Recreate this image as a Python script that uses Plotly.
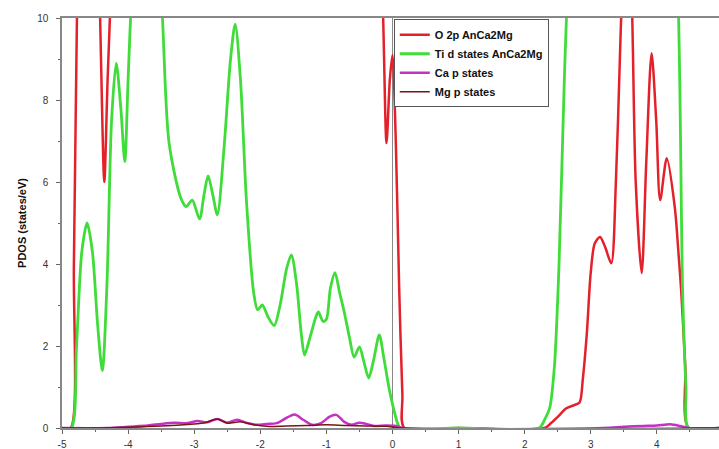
import plotly.graph_objects as go

# Energy (eV) / PDOS (states/eV)
ti_d_x = [-5.0, -4.86, -4.78, -4.70, -4.62, -4.54, -4.46, -4.39, -4.32, -4.25, -4.18, -4.11, -4.05,
          -4.0, -3.94, -3.85, -3.7, -3.55, -3.48, -3.38, -3.2, -3.12, -3.03, -2.92, -2.85, -2.79,
          -2.72, -2.65, -2.55, -2.45, -2.38, -2.3, -2.21, -2.1, -2.04, -1.97, -1.88, -1.79, -1.7,
          -1.6, -1.53, -1.45, -1.38, -1.33, -1.25, -1.15, -1.12, -1.05, -1.0, -0.94, -0.87, -0.8,
          -0.73, -0.65, -0.58, -0.5, -0.43, -0.36, -0.28, -0.2, -0.13, -0.05, 0.02, 0.08, 0.12,
          1.0, 2.22, 2.3, 2.38, 2.45, 2.52, 2.6, 2.66, 2.8, 3.5, 4.2, 4.32, 4.39, 4.44, 4.48, 4.94]
ti_d_y = [0.0, 0.0, 2.0, 4.3, 5.0, 4.3, 2.5, 1.4, 3.5, 7.5, 8.9, 7.8, 6.5,
          8.5, 10.8, 13.0, 14.0, 12.0, 10.0, 6.95, 5.6, 5.4, 5.56, 5.1, 5.7, 6.15,
          5.7, 5.2, 6.8, 9.0, 9.85, 8.5, 5.56, 3.3, 2.88, 3.0, 2.7, 2.5, 3.0,
          3.9, 4.22, 3.5, 2.3, 1.78, 2.2, 2.75, 2.83, 2.6, 2.65, 3.4, 3.79, 3.3,
          2.83, 2.2, 1.73, 1.98, 1.6, 1.22, 1.7, 2.27, 1.7, 0.95, 0.45, 0.1, 0.0,
          0.0, 0.0, 0.2, 0.5, 1.5, 4.0, 8.5, 11.0, 14.0, 15.0, 14.0, 10.5, 3.3, 1.0, 0.0, 0.0]

o_2p_x = [-5.0, -4.87, -4.82, -4.77, -4.7, -4.55, -4.45, -4.41, -4.36, -4.31, -4.25, -4.1,
          -2.0, -0.3, -0.15, -0.09, -0.04, 0.0, 0.05, 0.1, 0.15, 0.18,
          1.0, 2.3, 2.4, 2.5, 2.63, 2.75, 2.83, 2.88, 2.94, 3.0, 3.06, 3.14, 3.22, 3.31,
          3.38, 3.44, 3.47, 3.55, 3.62, 3.68, 3.77, 3.84, 3.92, 3.99, 4.05, 4.15, 4.27,
          4.33, 4.37, 4.43, 4.48, 4.94]
o_2p_y = [0.0, 0.0, 4.0, 10.5, 16.0, 18.0, 12.0, 9.0, 6.0, 8.5, 11.0, 16.0,
          18.0, 16.0, 10.5, 6.95, 8.5, 9.1, 7.0, 3.5, 0.8, 0.0,
          0.0, 0.0, 0.12, 0.27, 0.48, 0.56, 0.62, 1.2, 2.3, 3.8, 4.5, 4.66, 4.4, 4.02,
          6.0, 9.0, 10.5, 13.0, 10.5, 6.0, 3.78, 6.5, 9.14, 7.5, 5.56, 6.58, 5.4,
          4.2, 3.3, 1.5, 0.0, 0.0]

ca_p_x = [-5.0, -4.3, -4.0, -3.7, -3.5, -3.3, -3.1, -2.95, -2.8, -2.65, -2.5, -2.35, -2.2,
          -2.05, -1.9, -1.75, -1.6, -1.48, -1.35, -1.22, -1.08, -0.95, -0.85, -0.73, -0.62,
          -0.5, -0.4, -0.28, -0.1, 0.05, 0.15, 3.2, 3.5, 3.8, 4.0, 4.2, 4.35, 4.48, 4.94]
ca_p_y = [0.0, 0.0, 0.03, 0.06, 0.1, 0.13, 0.12, 0.17, 0.14, 0.22, 0.13, 0.2, 0.12,
          0.08, 0.1, 0.12, 0.25, 0.33, 0.2, 0.08, 0.12, 0.28, 0.32, 0.15, 0.08,
          0.13, 0.1, 0.05, 0.06, 0.05, 0.0, 0.0, 0.03, 0.05, 0.06, 0.09, 0.05, 0.0, 0.0]

mg_p_x = [-5.0, -4.5, -4.0, -3.5, -3.0, -2.85, -2.65, -2.5, -2.3, -2.1, -1.9, -1.6, -1.3,
          -1.0, -0.7, -0.4, -0.1, 0.15, 4.94]
mg_p_y = [0.0, 0.0, 0.02, 0.05, 0.1, 0.12, 0.22, 0.12, 0.15, 0.08, 0.04, 0.05, 0.06,
          0.08, 0.06, 0.05, 0.04, 0.0, 0.0]

series_names = ["O 2p AnCa2Mg", "Ti d states AnCa2Mg", "Ca p states", "Mg p states"]
x_ticks = [-5, -4, -3, -2, -1, 0, 1, 2, 3, 4, 5]
y_ticks = [0, 2, 4, 6, 8, 10]

fig = go.Figure()
fig.add_trace(go.Scatter(x=o_2p_x, y=o_2p_y, name=series_names[0], mode="lines",
                         line=dict(color="#e3212b", width=2.5, shape="spline", smoothing=0.8)))
fig.add_trace(go.Scatter(x=ti_d_x, y=ti_d_y, name=series_names[1], mode="lines",
                         line=dict(color="#3fdc3a", width=2.8, shape="spline", smoothing=0.8)))
fig.add_trace(go.Scatter(x=ca_p_x, y=ca_p_y, name=series_names[2], mode="lines",
                         line=dict(color="#c530c5", width=2.5, shape="spline", smoothing=0.8)))
fig.add_trace(go.Scatter(x=mg_p_x, y=mg_p_y, name=series_names[3], mode="lines",
                         line=dict(color="#7a1414", width=1.5, shape="spline", smoothing=0.8)))

axis_font = dict(family="Arial, Liberation Sans, sans-serif", size=10, color="#333")
fig.update_layout(
    width=719, height=449,
    margin=dict(l=62, r=0, t=18, b=21),
    paper_bgcolor="white", plot_bgcolor="white",
    font=dict(family="Arial, Liberation Sans, sans-serif", color="#222"),
    showlegend=True,
    legend=dict(x=0.505, y=0.997, xanchor="left", yanchor="top",
                bgcolor="white", bordercolor="#555", borderwidth=1,
                font=dict(size=11, family="Arial, Liberation Sans, sans-serif", color="#111",
                          weight="bold"),
                itemwidth=30, tracegroupgap=0),
    xaxis=dict(range=[-5, 4.94], tickvals=x_ticks, ticktext=[str(v) for v in x_ticks],
               showgrid=False, zeroline=True, zerolinecolor="#888", zerolinewidth=1,
               showline=True, linecolor="#888", linewidth=1.5, mirror=True,
               ticks="outside", ticklen=4, tickcolor="#666", tickfont=axis_font,
               ticklabelstandoff=2,
               minor=dict(ticks="outside", ticklen=2, dtick=0.5, tickcolor="#666")),
    yaxis=dict(range=[0, 10], tickvals=y_ticks, ticktext=[str(v) for v in y_ticks],
               showgrid=False, zeroline=False,
               showline=True, linecolor="#888", linewidth=1.5,
               ticks="outside", ticklen=4, tickcolor="#666", tickfont=axis_font,
               ticklabelstandoff=6,
               minor=dict(ticks="outside", ticklen=2, dtick=1, tickcolor="#666"),
               title=dict(text="PDOS (states/eV)", standoff=8,
                          font=dict(size=11, family="Arial, Liberation Sans, sans-serif",
                                    color="#111", weight="bold"))),
)

fig.write_html("out.html", config={"displayModeBar": False},
               post_script="document.body.style.margin='0px';document.body.style.overflow='hidden';")
